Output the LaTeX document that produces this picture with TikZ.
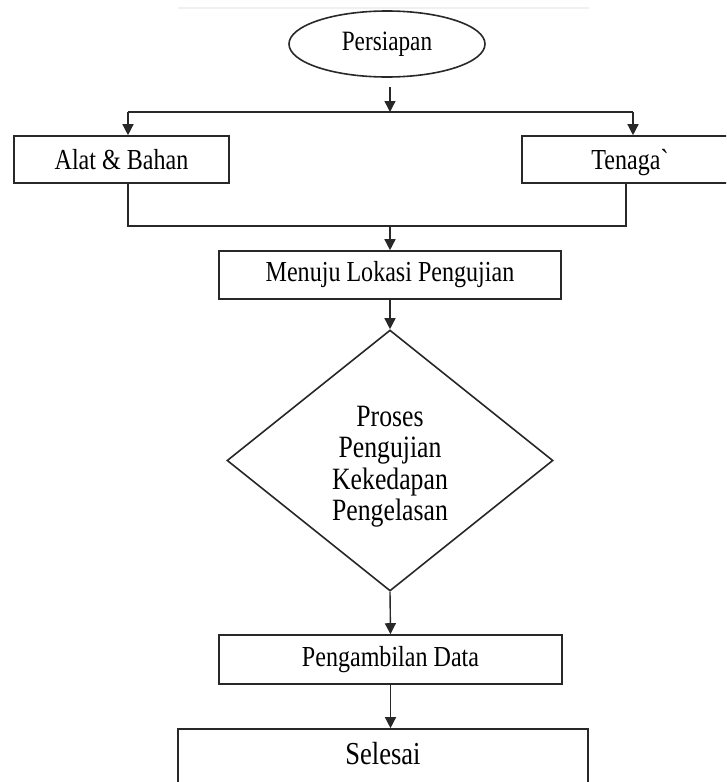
\documentclass[tikz,border=0pt]{standalone}
\usepackage{fontspec}
\setmainfont{Liberation Serif}[FakeStretch=0.83,Ligatures=TeXOff]
\usepackage{tikz}
\usetikzlibrary{arrows.meta,shapes.geometric,positioning}
\definecolor{linegray}{RGB}{40,40,40}

\tikzset{
  box/.style={draw=linegray, line width=1.6pt, inner sep=0pt, font=\fontsize{29}{31}\selectfont},
  arr/.style={linegray, line width=1.4pt, -{Triangle[width=11pt,length=11pt]}},
  ln/.style={linegray, line width=1.4pt},
}

\begin{document}
\begin{tikzpicture}[x=1pt,y=-1pt]
  \path[use as bounding box, clip] (0,0) rectangle (726,782);
  \draw[gray!12, line width=1.2pt] (178,8) -- (589,8);

  \node[draw=linegray, ellipse, line width=1.6pt, minimum width=196pt, minimum height=66pt,
        inner sep=0pt, font=\fontsize{28}{30}\selectfont] (persiapan) at (387,44) {Persiapan};
  \node[box, minimum width=215pt, minimum height=47pt] (alat) at (121.5,159.5) {Alat \& Bahan};
  \node[box, minimum width=216pt, minimum height=47pt, text depth=0pt] (tenaga) at (630,159.5) {Tenaga`};
  \node[box, minimum width=342pt, minimum height=48pt] (menuju) at (390,275) {Menuju Lokasi Pengujian};
  \node[draw=linegray, diamond, line width=1.6pt, minimum width=326pt, minimum height=261pt,
        aspect=1.25, inner sep=0pt, align=center, font=\fontsize{31}{31.5}\selectfont]
        (proses) at (390,460.5) {\rule{0pt}{33pt}Proses\\Pengujian\\Kekedapan\\Pengelasan};
  \node[box, minimum width=343pt, minimum height=49pt] (ambil) at (390.5,659.5) {Pengambilan Data};
  \node[box, minimum width=410pt, minimum height=60pt, text depth=12pt,
        font=\fontsize{32}{34}\selectfont] (selesai) at (383,759) {Selesai};

  \coordinate (split) at (390,112);
  \coordinate (ltop) at (128,112);
  \coordinate (rtop) at (633,112);
  \coordinate (join) at (390,226);
  \coordinate (lbot) at (128,226);
  \coordinate (rbot) at (626,226);

  \draw[arr, shorten <=9pt] (split |- persiapan.south) -- (split);
  \draw[ln] (ltop) -- (rtop);
  \draw[arr] (ltop) -- (ltop |- alat.north);
  \draw[arr] (rtop) -- (rtop |- tenaga.north);
  \draw[ln] (lbot |- alat.south) -- (lbot) -- (rbot) -- (rbot |- tenaga.south);
  \draw[arr] (join) -- (menuju.north);
  \draw[arr] (menuju.south) -- (proses.north);
  \draw[arr] (proses.south) -- (ambil.north);
  \draw[arr] (ambil.south) -- (ambil.south |- selesai.north);
\end{tikzpicture}
\end{document}
